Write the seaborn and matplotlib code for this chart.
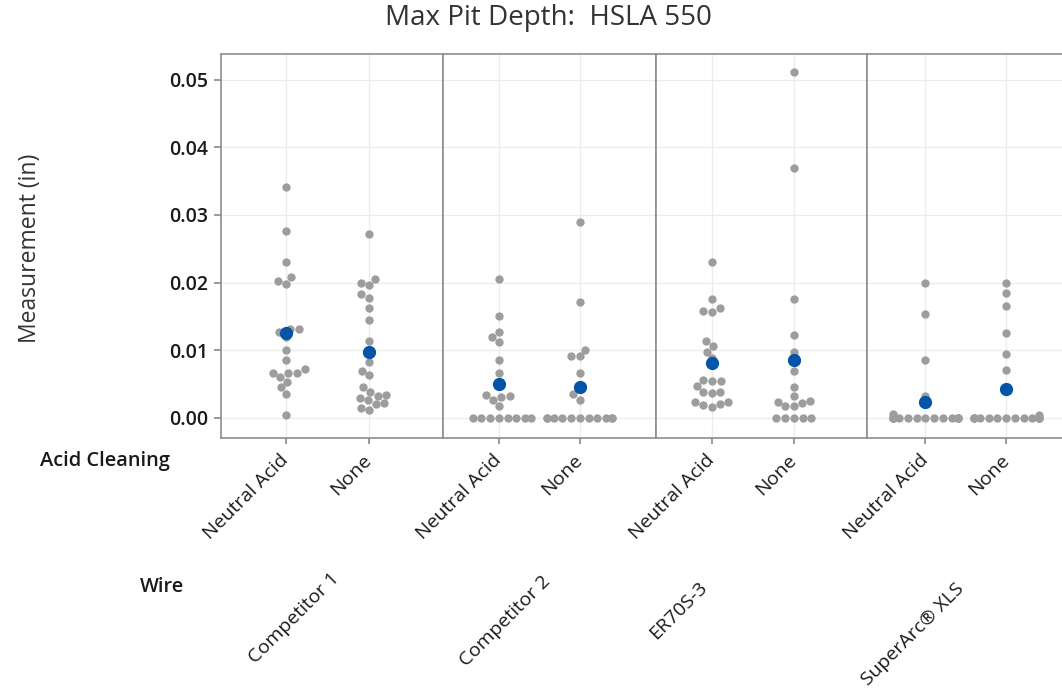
import warnings
warnings.filterwarnings("ignore")
import matplotlib
matplotlib.use("Agg")
import matplotlib.pyplot as plt
import seaborn as sns
import pandas as pd
from matplotlib.ticker import FormatStrFormatter

# ---------------- data ----------------
wires = ["Competitor 1", "Competitor 2", "ER70S-3", "SuperArc® XLS"]
acid_levels = ["Neutral Acid", "None"]

comp1_neutral = [0.0341, 0.0276, 0.0231, 0.0208, 0.0203, 0.0198, 0.0132, 0.0131,
                 0.0127, 0.0120, 0.0100, 0.0086, 0.0072, 0.0067, 0.0067, 0.0066,
                 0.0060, 0.0053, 0.0045, 0.0035, 0.0005]
comp1_none = [0.0272, 0.0205, 0.0200, 0.0196, 0.0183, 0.0177, 0.0162, 0.0145,
              0.0113, 0.0096, 0.0082, 0.0070, 0.0063, 0.0046, 0.0039, 0.0034,
              0.0032, 0.0030, 0.0027, 0.0022, 0.0020, 0.0015, 0.0012]
comp2_neutral = [0.0205, 0.0150, 0.0127, 0.0120, 0.0112, 0.0086, 0.0067, 0.0034,
                 0.0032, 0.0031, 0.0026, 0.0017, 0, 0, 0, 0, 0, 0, 0, 0]
comp2_none = [0.0290, 0.0171, 0.0101, 0.0092, 0.0091, 0.0067, 0.0035, 0.0027,
              0, 0, 0, 0, 0, 0, 0, 0, 0, 0, 0]
er70_neutral = [0.0231, 0.0176, 0.0162, 0.0158, 0.0157, 0.0113, 0.0106, 0.0098,
                0.0088, 0.0056, 0.0055, 0.0054, 0.0047, 0.0039, 0.0038, 0.0037,
                0.0024, 0.0023, 0.0020, 0.0019, 0.0016]
er70_none = [0.0511, 0.0370, 0.0176, 0.0122, 0.0097, 0.0069, 0.0046, 0.0032,
             0.0025, 0.0024, 0.0022, 0.0018, 0.0017, 0, 0, 0, 0, 0]
superarc_neutral = [0.0200, 0.0154, 0.0085, 0.0032, 0.0006,
                    0, 0, 0, 0, 0, 0, 0, 0, 0, 0, 0, 0, 0, 0, 0]
superarc_none = [0.0200, 0.0185, 0.0166, 0.0126, 0.0095, 0.0071, 0.0005,
                 0, 0, 0, 0, 0, 0, 0, 0, 0, 0, 0, 0, 0]

series = {
    ("Competitor 1", "Neutral Acid"): comp1_neutral,
    ("Competitor 1", "None"): comp1_none,
    ("Competitor 2", "Neutral Acid"): comp2_neutral,
    ("Competitor 2", "None"): comp2_none,
    ("ER70S-3", "Neutral Acid"): er70_neutral,
    ("ER70S-3", "None"): er70_none,
    ("SuperArc® XLS", "Neutral Acid"): superarc_neutral,
    ("SuperArc® XLS", "None"): superarc_none,
}
rows = []
for (w, a), vals in series.items():
    for v in vals:
        rows.append({"Wire": w, "Acid Cleaning": a, "Measurement": v})
df = pd.DataFrame(rows)

# ---------------- style ----------------
sns.set_theme(style="white")
plt.rcParams["font.family"] = ["Open Sans", "DejaVu Sans"]

W, H = 1062, 693
fig = plt.figure(figsize=(W / 100, H / 100), dpi=100)

def fx(px):
    return px / W

def fy(py):
    return 1 - py / H

edges = [221, 443, 656, 867, 1079]
top_px, bot_px = 54, 438
xlims = [(-0.78, 1.89), (-0.69, 1.94), (-0.68, 1.89), (-0.72, 1.90)]
grey = "#9d9d9d"
blue = "#0454a8"
frame = "#8e8e8e"
txt = "#1a1a1a"
ylim = (-0.00297, 0.0538)

for i, w in enumerate(wires):
    ax = fig.add_axes([fx(edges[i]), fy(bot_px), fx(edges[i + 1]) - fx(edges[i]),
                       fy(top_px) - fy(bot_px)])
    sub = df[df["Wire"] == w]
    sns.swarmplot(data=sub, x="Acid Cleaning", y="Measurement", order=acid_levels,
                  color=grey, size=6.0, ax=ax, zorder=3)
    sns.pointplot(data=sub, x="Acid Cleaning", y="Measurement", order=acid_levels,
                  estimator="mean", errorbar=None, color=blue, markers="o",
                  linestyles="none", markersize=7.5, ax=ax, zorder=5)
    ax.set_xlim(*xlims[i])
    ax.set_ylim(*ylim)
    ax.set_xticks([0, 1])
    ax.set_xticklabels(acid_levels, rotation=45, ha="right", va="center",
                       rotation_mode="anchor", fontsize=14, color=txt)
    ax.tick_params(axis="x", length=4, color=frame, pad=10, bottom=True)
    ax.set_yticks([0, 0.01, 0.02, 0.03, 0.04, 0.05])
    ax.yaxis.set_major_formatter(FormatStrFormatter("%.2f"))
    ax.grid(True, color="#ececec", linewidth=0.9)
    ax.set_axisbelow(True)
    ax.set_xlabel("")
    ax.set_ylabel("")
    for s in ax.spines.values():
        s.set_color(frame)
        s.set_linewidth(1.2)
    if i == 0:
        ax.tick_params(axis="y", length=5, color=frame, left=True, pad=4)
        for lab in ax.get_yticklabels():
            lab.set_fontsize(14)
            lab.set_fontweight("semibold")
            lab.set_color(txt)
    else:
        ax.tick_params(axis="y", left=False, labelleft=False)

# wire labels (anchor = end of each rotated label)
wire_anchor_px = [(336, 576), (548, 579), (704, 585), (961, 586)]
for w, (ax_px, ay_px) in zip(wires, wire_anchor_px):
    fig.text(fx(ax_px), fy(ay_px), w, rotation=45, ha="right", va="center",
             rotation_mode="anchor", fontsize=14, color=txt)

fig.text(fx(40), fy(461), "Acid Cleaning", ha="left", va="center", fontsize=14.4,
         fontweight="semibold", color=txt)
fig.text(fx(140), fy(587), "Wire", ha="left", va="center", fontsize=14.4,
         fontweight="semibold", color=txt)
fig.text(fx(30), fy(248), "Measurement (in)", rotation=90, ha="center", va="center",
         fontsize=16.5, color="#333333")
fig.text(fx(548), fy(18), "Max Pit Depth:  HSLA 550", ha="center", va="center",
         fontsize=20, color="#333333")

fig.savefig("out.png", dpi=100)
